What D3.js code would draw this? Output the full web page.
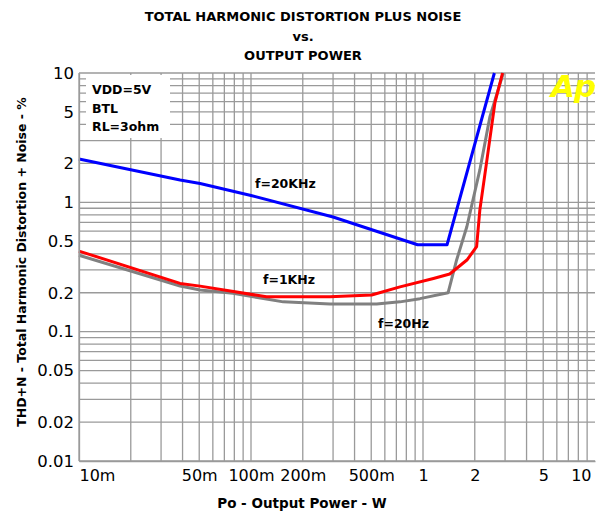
<!DOCTYPE html>
<html>
<head>
<meta charset="utf-8">
<script src="https://cdn.jsdelivr.net/npm/d3@7"></script>
<style>
body { margin: 0; background: #fff; }
svg text { font-family: "DejaVu Sans", Verdana, sans-serif; }
</style>
</head>
<body>
<div id="chart"></div>
<script>
// readings (power in W, THD+N in %)
const power20k = [0.01, 0.0387, 0.0506, 0.1, 0.3, 0.93, 1.38, 2.6];
const thd20k   = [2.16, 1.49, 1.40, 1.13, 0.77, 0.47, 0.47, 10];

const power1k = [0.01, 0.0387, 0.0506, 0.123, 0.288, 0.503, 0.735, 1.15, 1.43, 1.8, 2.05, 2.14, 2.35, 2.62, 2.9];
const thd1k   = [0.42, 0.236, 0.225, 0.186, 0.186, 0.192, 0.222, 0.258, 0.279, 0.358, 0.454, 0.87, 2.1, 5.9, 10];

const power20 = [0.01, 0.0387, 0.0506, 0.0786, 0.154, 0.288, 0.538, 0.735, 0.96, 1.4, 1.57, 1.8, 2.14, 2.45, 2.93];
const thd20   = [0.39, 0.2255, 0.21, 0.198, 0.17, 0.1635, 0.1635, 0.17, 0.18, 0.2, 0.36, 0.65, 1.78, 4.6, 10];

const xTicks = [0.01, 0.05, 0.1, 0.2, 0.5, 1, 2, 5, 10];
const xTickLabels = ["10m", "50m", "100m", "200m", "500m", "1", "2", "5", "10"];
const yTicks = [10, 5, 2, 1, 0.5, 0.2, 0.1, 0.05, 0.02, 0.01];
const yTickLabels = ["10", "5", "2", "1", "0.5", "0.2", "0.1", "0.05", "0.02", "0.01"];

const conditions = ["VDD=5V", "BTL", "RL=3ohm"];

const width = 604, height = 513;
const plot = { left: 79, right: 595, top: 73, bottom: 461 };

const svg = d3.select("#chart").append("svg")
  .attr("width", width)
  .attr("height", height);

const xScale = d3.scaleLog().domain([0.01, 10]).range([plot.left, plot.right]);
const yScale = d3.scaleLog().domain([0.01, 10]).range([plot.bottom, plot.top]);

// grid values 1..9 per decade
function decadeValues(lo, hi) {
  const out = [];
  for (let d = lo; d < hi; d *= 10) {
    for (let k = 1; k <= 9; k++) out.push(+(d * k).toPrecision(3));
  }
  out.push(hi);
  return out;
}

const gridColor = "#9a9a9a";
const grid = svg.append("g");

grid.selectAll(".hgrid")
  .data(decadeValues(0.01, 10))
  .join("line")
  .attr("x1", plot.left).attr("x2", plot.right)
  .attr("y1", d => yScale(d)).attr("y2", d => yScale(d))
  .attr("stroke", gridColor).attr("stroke-width", 1.3);

grid.selectAll(".vgrid")
  .data(decadeValues(0.01, 10).filter(d => d < 10))
  .join("line")
  .attr("x1", d => xScale(d)).attr("x2", d => xScale(d))
  .attr("y1", plot.top).attr("y2", plot.bottom)
  .attr("stroke", gridColor).attr("stroke-width", 1.3);

// conditions box covers grid
svg.append("rect")
  .attr("x", 86).attr("y", 75)
  .attr("width", 84).attr("height", 63)
  .attr("fill", "#fff");

svg.append("g").selectAll("text")
  .data(conditions)
  .join("text")
  .attr("x", 92)
  .attr("y", (d, i) => 94 + i * 18.5)
  .attr("font-size", 12.5).attr("font-weight", "bold")
  .text(d => d);

// Ap logo
svg.append("text")
  .attr("x", 551).attr("y", 97)
  .attr("font-family", "Liberation Sans, Arial, sans-serif")
  .attr("font-size", 31).attr("font-weight", "bold").attr("font-style", "italic")
  .attr("fill", "#ffff00")
  .attr("letter-spacing", -1)
  .text("Ap");

// curves
const line = d3.line()
  .x(d => xScale(d[0]))
  .y(d => yScale(d[1]));

const series = [
  { p: power20, v: thd20, color: "#808080" },
  { p: power1k, v: thd1k, color: "#ff0000" },
  { p: power20k, v: thd20k, color: "#0000ff" }
];

svg.append("g").selectAll("path")
  .data(series)
  .join("path")
  .attr("d", s => line(d3.zip(s.p, s.v)))
  .attr("fill", "none")
  .attr("stroke", s => s.color)
  .attr("stroke-width", 3)
  .attr("stroke-linejoin", "round");

// curve labels
const curveLabels = [
  { t: "f=20KHz", x: 255, y: 188 },
  { t: "f=1KHz", x: 263, y: 284 },
  { t: "f=20Hz", x: 378, y: 328 }
];
svg.append("g").selectAll("text")
  .data(curveLabels)
  .join("text")
  .attr("x", d => d.x).attr("y", d => d.y)
  .attr("font-size", 12.5).attr("font-weight", "bold")
  .text(d => d.t);

// axes
const tickFont = "Liberation Sans, Arial, sans-serif";
const xAxis = d3.axisBottom(xScale)
  .tickValues(xTicks)
  .tickFormat((d, i) => xTickLabels[i])
  .tickSize(0).tickPadding(9);
const gx = svg.append("g")
  .attr("transform", `translate(0,${plot.bottom})`)
  .call(xAxis);
gx.select(".domain").attr("stroke", gridColor).attr("stroke-width", 1.3);
gx.selectAll("text")
  .attr("font-size", 16).attr("fill", "#000")
  .attr("font-family", tickFont)
  .attr("text-anchor", (d, i) => i === 0 ? "start" : (i === xTicks.length - 1 ? "end" : "middle"))
  .attr("dx", (d, i) => i === xTicks.length - 1 ? -4 : 0);

const yAxis = d3.axisLeft(yScale)
  .tickValues(yTicks)
  .tickFormat((d, i) => yTickLabels[i])
  .tickSize(0).tickPadding(5);
const gy = svg.append("g")
  .attr("transform", `translate(${plot.left},0)`)
  .call(yAxis);
gy.select(".domain").attr("stroke", gridColor).attr("stroke-width", 1.3);
gy.selectAll("text")
  .attr("font-size", 16.5).attr("fill", "#000")
  .attr("font-family", tickFont);

// titles
const titleLines = ["TOTAL HARMONIC DISTORTION PLUS NOISE", "vs.", "OUTPUT POWER"];
svg.append("g").selectAll("text")
  .data(titleLines)
  .join("text")
  .attr("x", 303)
  .attr("y", (d, i) => 21 + i * 19.5)
  .attr("text-anchor", "middle")
  .attr("font-size", 13).attr("font-weight", "bold")
  .text(d => d);

svg.append("text")
  .attr("x", 302).attr("y", 508)
  .attr("text-anchor", "middle")
  .attr("font-size", 13.5).attr("font-weight", "bold")
  .text("Po - Output Power - W");

svg.append("text")
  .attr("transform", "translate(26,262) rotate(-90)")
  .attr("text-anchor", "middle")
  .attr("font-size", 12.5).attr("font-weight", "bold")
  .text("THD+N - Total Harmonic Distortion + Noise - %");
</script>
</body>
</html>
